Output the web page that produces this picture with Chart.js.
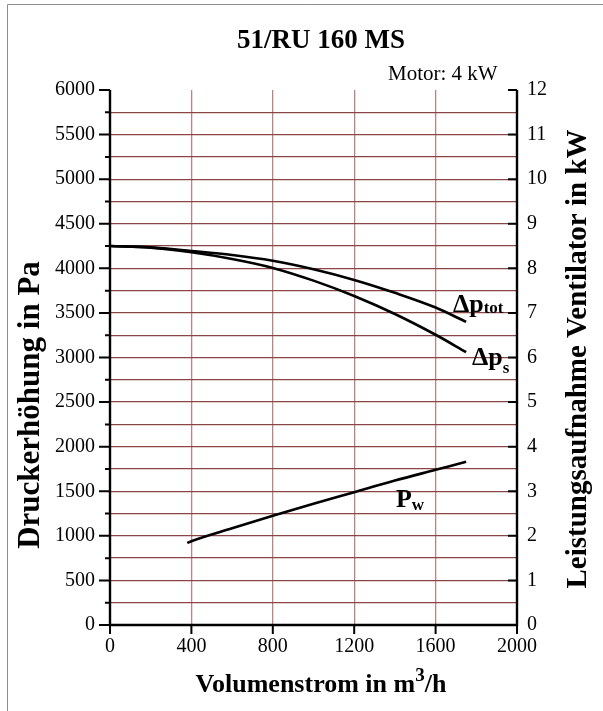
<!DOCTYPE html>
<html><head><meta charset="utf-8">
<script src="https://cdn.jsdelivr.net/npm/chart.js@4/dist/chart.umd.min.js"></script>
<style>html,body{margin:0;padding:0;background:#fff;}#wrap{position:relative;width:603px;height:711px;}canvas{display:block;}</style>
</head><body><div id="wrap"><canvas id="c" width="603" height="711" style="width:603px;height:711px"></canvas></div>
<script>
// ---- data ----
const flow   = [0, 200, 400, 600, 800, 1000, 1200, 1400, 1600, 1750];           // m3/h
const dpTot  = [4250, 4235, 4195, 4150, 4085, 3990, 3870, 3725, 3560, 3400];     // Pa
const dpS    = [4250, 4232, 4180, 4105, 4005, 3862, 3690, 3488, 3255, 3060];     // Pa
const flowPw = [380, 400, 600, 800, 1000, 1200, 1400, 1600, 1750];               // m3/h
const pw     = [1.84, 1.88, 2.17, 2.45, 2.72, 2.98, 3.24, 3.48, 3.66];           // kW
const xTickVals  = [0, 400, 800, 1200, 1600, 2000];
const yTickVals  = [0, 500, 1000, 1500, 2000, 2500, 3000, 3500, 4000, 4500, 5000, 5500, 6000];
const y2TickVals = [0, 1, 2, 3, 4, 5, 6, 7, 8, 9, 10, 11, 12];
const titleText = '51/RU 160 MS';
const motorText = 'Motor: 4 kW';
const yTitle = 'Druckerhöhung in Pa';
const y2Title = 'Leistungsaufnahme Ventilator in kW';

const SERIF = '"Liberation Serif", "Times New Roman", serif';
const H_GRID = '#8a4646';
const V_GRID = '#b88484';

function pts(xs, ys){ return xs.map((x,i)=>({x:x, y:ys[i]})); }

const decor = {
  id: 'decor',
  afterDraw(chart){
    const ctx = chart.ctx, x = chart.scales.x, y = chart.scales.y, y2 = chart.scales.y2;
    const L = x.getPixelForValue(0), R = x.getPixelForValue(2000);
    const T = y.getPixelForValue(6000), B = y.getPixelForValue(0);
    ctx.save();
    // frame
    ctx.strokeStyle = '#8c8c8c'; ctx.lineWidth = 1;
    ctx.beginPath(); ctx.moveTo(7.5, 711); ctx.lineTo(7.5, 4.5); ctx.lineTo(603, 4.5); ctx.stroke();
    // axes
    ctx.strokeStyle = '#000'; ctx.lineWidth = 2.4; ctx.lineCap = 'butt';
    ctx.beginPath();
    ctx.moveTo(L, T); ctx.lineTo(L, B + 1.2);
    ctx.moveTo(L - 1.2, B); ctx.lineTo(R + 1.2, B);
    ctx.moveTo(R, T); ctx.lineTo(R, B + 1.2);
    ctx.stroke();
    ctx.lineWidth = 2;
    ctx.beginPath();
    for (let v = 0; v <= 6000; v += 250) {
      const py = y.getPixelForValue(v);
      const len = (v % 500 === 0) ? 11 : 5;
      ctx.moveTo(L - len, py); ctx.lineTo(L, py);
    }
    y2TickVals.forEach(v => { const py = y2.getPixelForValue(v); ctx.moveTo(R, py); ctx.lineTo(R - 9, py); });
    xTickVals.forEach(v => { const px = x.getPixelForValue(v); ctx.moveTo(px, B); ctx.lineTo(px, B + 9); });
    ctx.stroke();
    // titles
    ctx.fillStyle = '#000';
    ctx.textBaseline = 'alphabetic';
    ctx.textAlign = 'center';
    ctx.font = 'bold 27px ' + SERIF;
    ctx.fillText(titleText, 321, 48);
    ctx.textAlign = 'left';
    ctx.font = '21px ' + SERIF;
    ctx.fillText(motorText, 388, 80);
    // x title with superscript
    const a = 'Volumenstrom in m', sup = '3', b = '/h';
    ctx.font = 'bold 26px ' + SERIF; const wa = ctx.measureText(a).width, wb = ctx.measureText(b).width;
    ctx.font = 'bold 19px ' + SERIF; const ws = ctx.measureText(sup).width;
    let sx = 321 - (wa + ws + wb) / 2;
    ctx.font = 'bold 26px ' + SERIF; ctx.fillText(a, sx, 692);
    ctx.font = 'bold 19px ' + SERIF; ctx.fillText(sup, sx + wa, 681);
    ctx.font = 'bold 26px ' + SERIF; ctx.fillText(b, sx + wa + ws, 692);
    // y titles
    ctx.textAlign = 'center';
    ctx.font = 'bold 31px ' + SERIF;
    ctx.save(); ctx.translate(39, 405); ctx.rotate(-Math.PI/2); ctx.fillText(yTitle, 0, 0); ctx.restore();
    ctx.font = 'bold 29px ' + SERIF;
    ctx.save(); ctx.translate(586, 359); ctx.rotate(-Math.PI/2); ctx.fillText(y2Title, 0, 0); ctx.restore();
    // curve labels
    function lab(main, sub, px, py, dy){
      ctx.textAlign = 'left';
      ctx.font = 'bold 26px ' + SERIF; ctx.fillText(main, px, py);
      const w = ctx.measureText(main).width;
      ctx.font = 'bold 17px ' + SERIF; ctx.fillText(sub, px + w, py + dy);
    }
    lab('Δp', 'tot', x.getPixelForValue(1685), y.getPixelForValue(3510), 1);
    lab('Δp', 's', x.getPixelForValue(1779), y.getPixelForValue(2916), 8);
    lab('P', 'w', x.getPixelForValue(1405), y2.getPixelForValue(2.65), 3);
    ctx.restore();
  }
};

new Chart(document.getElementById('c'), {
  type: 'line',
  data: {
    datasets: [
      { label: 'Δp tot', data: pts(flow, dpTot), yAxisID: 'y' },
      { label: 'Δp s', data: pts(flow, dpS), yAxisID: 'y' },
      { label: 'Pw', data: pts(flowPw, pw), yAxisID: 'y2' }
    ].map(d => Object.assign(d, { borderColor: '#000', borderWidth: 2.6, pointRadius: 0, fill: false, cubicInterpolationMode: 'monotone' }))
  },
  options: {
    responsive: false, animation: false, devicePixelRatio: 1,
    layout: { padding: { top: 90, left: 0, right: 0, bottom: 0 } },
    plugins: { legend: { display: false }, tooltip: { enabled: false }, title: { display: false } },
    scales: {
      x: {
        type: 'linear', min: 0, max: 2000,
        afterFit(s){ s.height = 86; },
        afterBuildTicks(s){ s.ticks = xTickVals.map(v => ({value: v})); },
        ticks: { color: '#000', font: { family: SERIF, size: 20 }, padding: 10, maxRotation: 0, autoSkip: false, callback: v => String(v) },
        grid: { drawTicks: false, color: c => (c.tick && (c.tick.value === 0 || c.tick.value === 2000)) ? 'rgba(0,0,0,0)' : V_GRID, lineWidth: 1.3 },
        border: { display: false }
      },
      y: {
        position: 'left', min: 0, max: 6000,
        afterFit(s){ s.width = 110; },
        afterBuildTicks(s){ const t = []; for (let v = 0; v <= 6000; v += 250) t.push({value: v}); s.ticks = t; },
        ticks: { color: '#000', font: { family: SERIF, size: 20 }, padding: 15, autoSkip: false, callback: v => (yTickVals.indexOf(v) >= 0 ? String(v) : '') },
        grid: { drawTicks: false, color: c => (c.tick && (c.tick.value === 0 || c.tick.value === 6000)) ? 'rgba(0,0,0,0)' : H_GRID, lineWidth: 1.3 },
        border: { display: false }
      },
      y2: {
        position: 'right', min: 0, max: 12,
        afterFit(s){ s.width = 86; },
        afterBuildTicks(s){ s.ticks = y2TickVals.map(v => ({value: v})); },
        ticks: { color: '#000', font: { family: SERIF, size: 20 }, padding: 10, autoSkip: false, callback: v => String(v) },
        grid: { drawTicks: false, drawOnChartArea: false },
        border: { display: false }
      }
    }
  },
  plugins: [decor]
});
</script>
</body></html>
